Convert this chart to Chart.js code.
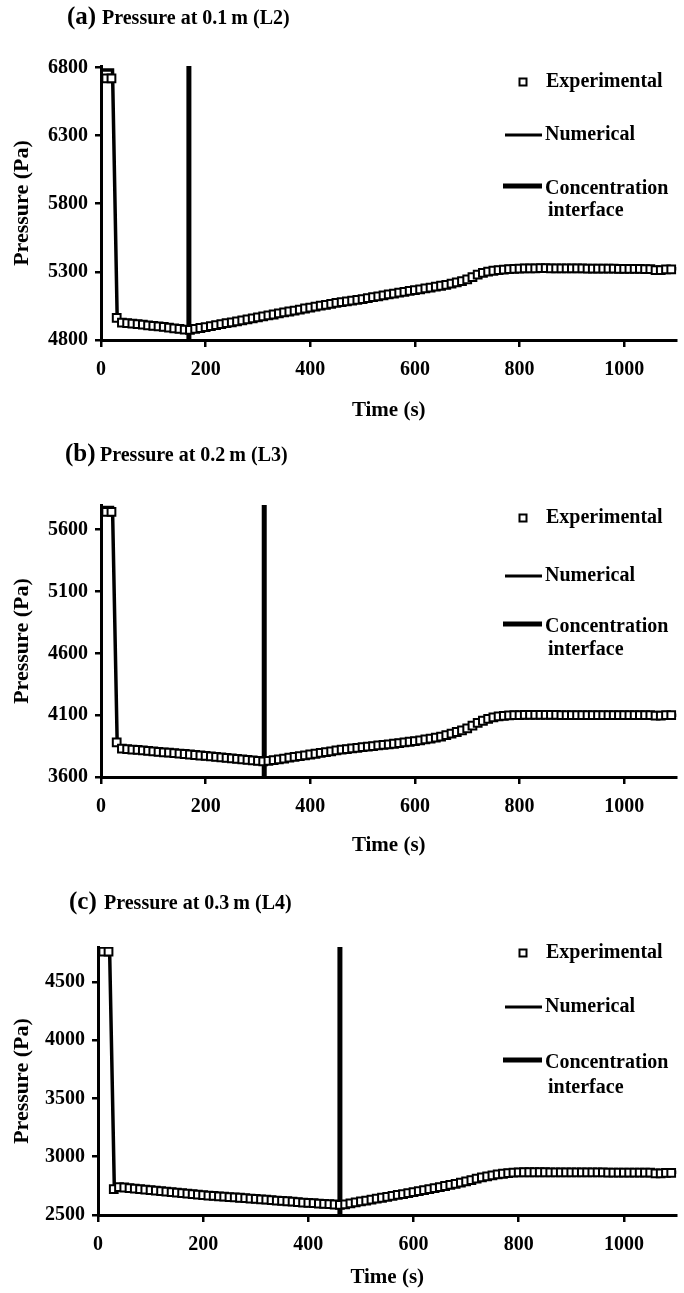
<!DOCTYPE html>
<html>
<head>
<meta charset="utf-8">
<script src="https://cdn.jsdelivr.net/npm/chart.js@4"></script>
<style>
html,body{margin:0;padding:0;background:#fff;}
#wrap{position:relative;width:684px;height:1293px;background:#fff;overflow:hidden;}
.box{position:absolute;left:0;width:684px;}
</style>
</head>
<body>
<div id="wrap">
  <div class="box" style="top:0;height:430px;"><canvas id="cA" width="684" height="430"></canvas></div>
  <div class="box" style="top:437px;height:430px;"><canvas id="cB" width="684" height="430"></canvas></div>
  <div class="box" style="top:885px;height:408px;"><canvas id="cC" width="684" height="408"></canvas></div>
</div>
<script>
// ---------- data ----------
const xTicks = [0, 200, 400, 600, 800, 1000];
const yTicksA = [4800, 5300, 5800, 6300, 6800];
const yTicksB = [3600, 4100, 4600, 5100, 5600];
const yTicksC = [2500, 3000, 3500, 4000, 4500];

const titlesA = ["(a)", "Pressure at 0.1\u2009m (L2)"];
const titlesB = ["(b)", "Pressure at 0.2\u2009m (L3)"];
const titlesC = ["(c)", "Pressure at 0.3\u2009m (L4)"];

const legendLabels = ["Experimental", "Numerical", "Concentration", "interface"];

// experimental sampling times (s)
const expTime = [
  10,20,30,40,50,60,70,80,90,100,
  110,120,130,140,150,160,170,180,190,200,
  210,220,230,240,250,260,270,280,290,300,
  310,320,330,340,350,360,370,380,390,400,
  410,420,430,440,450,460,470,480,490,500,
  510,520,530,540,550,560,570,580,590,600,
  610,620,630,640,650,660,670,680,690,700,
  710,720,730,740,750,760,770,780,790,800,
  810,820,830,840,850,860,870,880,890,900,
  910,920,930,940,950,960,970,980,990,1000,
  1010,1020,1030,1040,1050,1060,1070,1080,1090
];

const expA = [
  6720,6720,4962,4928,4924,4920,4916,4912,4908,4904,
  4900,4896,4891,4886,4881,4876,4874,4882,4888,4895,
  4902,4909,4916,4923,4930,4937,4944,4952,4959,4966,
  4973,4980,4987,4995,5002,5009,5016,5023,5031,5038,
  5045,5052,5058,5065,5072,5078,5083,5089,5095,5100,
  5107,5114,5120,5127,5134,5140,5147,5153,5160,5166,
  5172,5179,5185,5192,5198,5205,5213,5222,5232,5245,
  5262,5280,5293,5302,5308,5313,5317,5320,5322,5324,
  5325,5326,5326,5327,5327,5326,5326,5326,5325,5325,
  5325,5325,5324,5324,5324,5323,5323,5323,5322,5322,
  5322,5321,5321,5320,5320,5312,5312,5318,5318
];
const numTimeA = [0,22,31,40,100,168,200,300,400,500,600,650,690,720,740,760,800,900,1000,1100];
const numA = [6780,6780,4945,4915,4893,4862,4885,4958,5030,5093,5158,5192,5228,5276,5298,5310,5322,5325,5324,5322];
const interfaceA = 168;

const expB = [
  5745,5745,3880,3830,3826,3822,3819,3815,3812,3808,
  3804,3800,3797,3793,3789,3786,3782,3778,3774,3770,
  3766,3762,3758,3754,3750,3746,3742,3738,3734,3730,
  3727,3731,3737,3743,3749,3756,3762,3769,3775,3782,
  3788,3795,3802,3808,3815,3822,3826,3831,3836,3841,
  3845,3850,3855,3860,3864,3869,3874,3880,3885,3891,
  3897,3904,3911,3918,3927,3938,3951,3964,3978,3993,
  4015,4038,4055,4070,4082,4090,4095,4098,4100,4101,
  4102,4102,4102,4102,4102,4102,4102,4101,4101,4101,
  4101,4101,4101,4101,4101,4101,4100,4100,4100,4100,
  4100,4100,4100,4100,4100,4096,4096,4100,4100
];
const numTimeB = [0,22,31,40,100,200,312,400,460,550,600,650,700,720,750,800,900,1000,1100];
const numB = [5780,5780,3860,3822,3800,3762,3720,3775,3815,3860,3886,3922,3988,4030,4080,4098,4100,4100,4100];
const interfaceB = 312;

const expC = [
  4760,4760,2722,2740,2736,2731,2727,2722,2718,2714,
  2709,2705,2701,2696,2692,2688,2683,2679,2675,2670,
  2667,2664,2660,2657,2654,2651,2648,2645,2641,2638,
  2635,2631,2628,2624,2621,2618,2614,2611,2607,2604,
  2601,2598,2596,2593,2590,2586,2592,2600,2608,2616,
  2624,2632,2640,2648,2656,2664,2672,2680,2688,2696,
  2704,2713,2722,2731,2740,2749,2758,2767,2777,2788,
  2800,2812,2823,2832,2840,2848,2854,2859,2863,2866,
  2867,2867,2867,2867,2867,2866,2866,2866,2866,2866,
  2866,2866,2865,2865,2865,2865,2864,2864,2864,2864,
  2864,2863,2863,2863,2863,2858,2858,2862,2862
];
const numTimeC = [0,22,31,40,100,200,300,400,460,500,600,700,750,800,900,1000,1100];
const numC = [4790,4790,2745,2748,2722,2680,2648,2612,2592,2612,2700,2792,2845,2870,2870,2868,2866];
const interfaceC = 460;

// ---------- chart ----------
const FAM = "'Liberation Serif', 'Times New Roman', serif";
Chart.defaults.font.family = FAM;
Chart.defaults.font.weight = 'bold';
Chart.defaults.color = '#000';

const decorPlugin = {
  id: 'decor',
  afterDraw(chart) {
    const o = chart.options.plugins.decor;
    const ctx = chart.ctx;
    ctx.save();
    ctx.fillStyle = '#000';
    ctx.strokeStyle = '#000';
    ctx.textBaseline = 'middle';
    ctx.textAlign = 'left';
    // title
    ctx.font = "bold 25px " + FAM;
    ctx.fillText(o.title[0], o.titleX, o.titleY);
    ctx.font = "bold 20px " + FAM;
    ctx.fillText(o.title[1], o.titleX + 35, o.titleY + 1);
    // legend
    const L = o.legend;
    ctx.font = "bold 20px " + FAM;
    ctx.lineWidth = 2;
    ctx.fillStyle = '#fff';
    ctx.fillRect(519.5, L[0] - 3.5, 7, 7);
    ctx.strokeRect(519.5, L[0] - 3.5, 7, 7);
    ctx.fillStyle = '#000';
    ctx.fillText(legendLabels[0], 546, L[0]);
    ctx.lineWidth = 3;
    ctx.beginPath(); ctx.moveTo(505, L[1]); ctx.lineTo(542, L[1]); ctx.stroke();
    ctx.fillText(legendLabels[1], 545, L[1]);
    ctx.lineWidth = 5;
    ctx.beginPath(); ctx.moveTo(503, L[2]); ctx.lineTo(542, L[2]); ctx.stroke();
    ctx.fillText(legendLabels[2], 545, L[2] + 3);
    ctx.fillText(legendLabels[3], 548, L[3]);
    ctx.restore();
  }
};

function makeChart(id, cfg) {
  const expData = expTime.map((t, i) => ({x: t, y: cfg.exp[i]}));
  const numData = cfg.numTime.map((t, i) => ({x: t, y: cfg.num[i]}));
  const yMin = cfg.yTicks[0];
  const ifaceData = [{x: cfg.iface, y: yMin}, {x: cfg.iface, y: cfg.yMax}];
  return new Chart(document.getElementById(id), {
    type: 'line',
    data: {
      datasets: [
        {label: 'Experimental', data: expData, showLine: false, pointStyle: 'rect',
         pointRadius: 5.5, pointBorderWidth: 2, pointBorderColor: '#000',
         pointBackgroundColor: '#fff', order: 0},
        {label: 'Numerical', data: numData, borderColor: '#000', borderWidth: 3.5,
         pointRadius: 0, tension: 0, fill: false, order: 1},
        {label: 'Concentration interface', data: ifaceData, borderColor: '#000', borderWidth: 5,
         pointRadius: 0, fill: false, order: 2, clip: false}
      ]
    },
    plugins: [decorPlugin],
    options: {
      responsive: false,
      animation: false,
      devicePixelRatio: 1,
      layout: {padding: {top: cfg.top, left: 0, right: 0, bottom: 0}},
      plugins: {
        legend: {display: false},
        tooltip: {enabled: false},
        title: {display: false},
        decor: {title: cfg.title, titleX: cfg.titleX, titleY: 18, legend: cfg.legend}
      },
      scales: {
        x: {
          type: 'linear', min: 0, max: 1100,
          afterFit: s => { s.height = cfg.xH; },
          afterBuildTicks: s => { s.ticks = xTicks.map(v => ({value: v})); },
          ticks: {font: {size: 20, weight: 'bold'}, color: '#000', padding: 11, maxRotation: 0,
                  includeBounds: false, callback: v => String(v)},
          grid: {drawOnChartArea: false, drawTicks: true, tickLength: 7, color: '#000', lineWidth: 2.5},
          border: {display: true, color: '#000', width: 3},
          title: {display: true, text: 'Time (s)', font: {size: 21, weight: 'bold'}, color: '#000',
                  padding: {top: 0, bottom: cfg.xTitlePad}}
        },
        y: {
          type: 'linear', min: yMin, max: cfg.yMax,
          afterFit: s => { s.width = cfg.yW; },
          afterBuildTicks: s => { s.ticks = cfg.yTicks.map(v => ({value: v})); },
          ticks: {font: {size: 20, weight: 'bold'}, color: '#000', padding: 7,
                  includeBounds: false, callback: v => String(v)},
          grid: {drawOnChartArea: false, drawTicks: true, tickLength: 6, color: '#000', lineWidth: 2.5},
          border: {display: true, color: '#000', width: 3},
          title: {display: true, text: 'Pressure (Pa)', font: {size: 22, weight: 'bold'}, color: '#000',
                  padding: {top: 9, bottom: 0}}
        }
      }
    }
  });
}

makeChart('cA', {exp: expA, numTime: numTimeA, num: numA, iface: interfaceA,
  yTicks: yTicksA, yMax: 6810, top: 66, yW: 101, xH: 90, xTitlePad: 7,
  title: titlesA, titleX: 67, legend: [82, 135, 186, 211]});
makeChart('cB', {exp: expB, numTime: numTimeB, num: numB, iface: interfaceB,
  yTicks: yTicksB, yMax: 5800, top: 68, yW: 101, xH: 90, xTitlePad: 9,
  title: titlesB, titleX: 65, legend: [81, 139, 187, 213]});
makeChart('cC', {exp: expC, numTime: numTimeC, num: numC, iface: interfaceC,
  yTicks: yTicksC, yMax: 4800, top: 62, yW: 98, xH: 78, xTitlePad: 3,
  title: titlesC, titleX: 69, legend: [68, 122, 175, 203]});
</script>
</body>
</html>
